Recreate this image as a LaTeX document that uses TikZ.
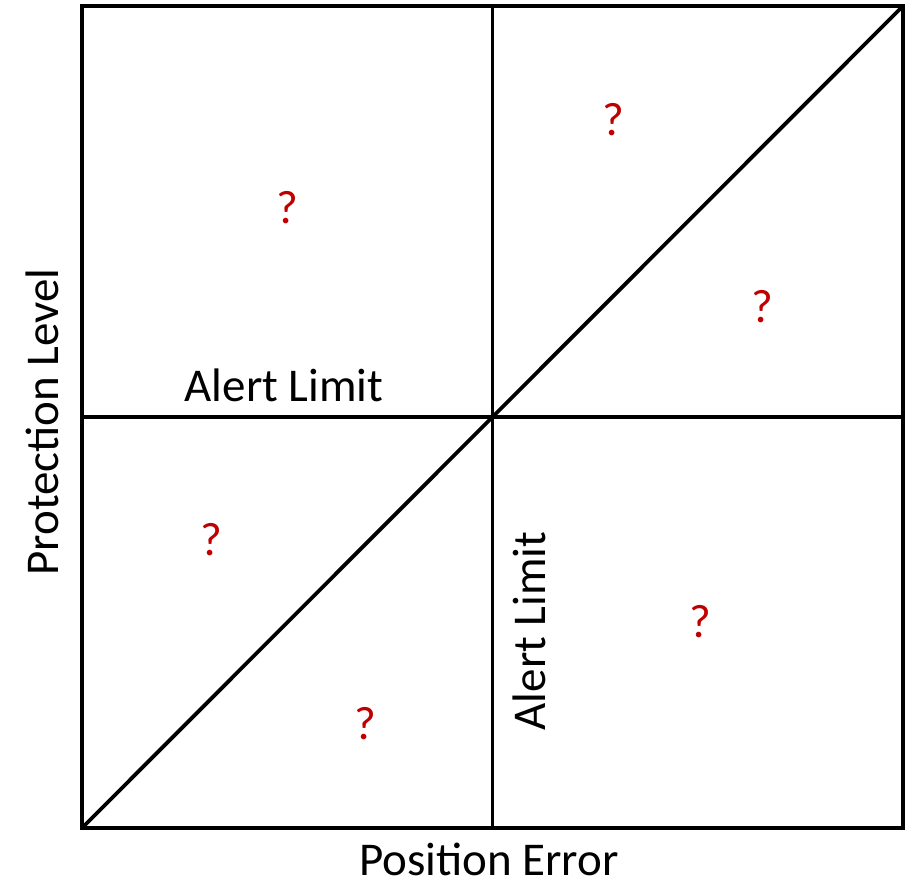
\documentclass[tikz,border=0pt]{standalone}
\usepackage{fontspec}
\setmainfont{Carlito}
\definecolor{QuestRed}{HTML}{C00000}
\usetikzlibrary{positioning}
\tikzset{
  frameLine/.style={draw=black, line width=4.4pt},
  axisLine/.style={draw=black, line width=3.8pt},
  axisLabel/.style={font=\fontsize{47}{56}\selectfont, inner sep=0pt, anchor=base},
  limitLabel/.style={font=\fontsize{47}{56}\selectfont, inner sep=0pt, anchor=base},
  questMark/.style={font=\fontsize{47}{56}\selectfont, text=QuestRed, inner sep=0pt}
}
\begin{document}
\begin{tikzpicture}[x=1pt, y=1pt]
\useasboundingbox (0,0) rectangle (908,888);
% corners and centre of the plot
\coordinate (bl) at (82,60);
\coordinate (tr) at (903,882);
\coordinate (br) at (903,60);
\coordinate (tl) at (82,882);
\coordinate (mid) at (492.5,471);
\coordinate (midB) at (492.5,60);
\coordinate (midT) at (492.5,882);
\coordinate (midL) at (82,471);
\coordinate (midR) at (903,471);
% lines
\draw[axisLine] (midB) -- (midT);
\draw[axisLine] (midL) -- (midR);
\draw[axisLine] (bl) -- (tr);
\draw[frameLine] (bl) rectangle (tr);
% labels
\node[axisLabel] (xlabel) at (489,12) {Position Error};
\node[axisLabel, rotate=90] (ylabel) at (58,466) {Protection Level};
\node[limitLabel] (limitH) at (284,486) {Alert Limit};
\node[limitLabel, rotate=90] (limitV) at (545,257) {Alert Limit};
% question marks
\node[questMark] (q1) at (613,768) {?};
\node[questMark] (q2) at (287,680) {?};
\node[questMark] (q3) at (762,581) {?};
\node[questMark] (q4) at (211,348) {?};
\node[questMark] (q5) at (700,266) {?};
\node[questMark] (q6) at (365,164) {?};
\end{tikzpicture}
\end{document}
